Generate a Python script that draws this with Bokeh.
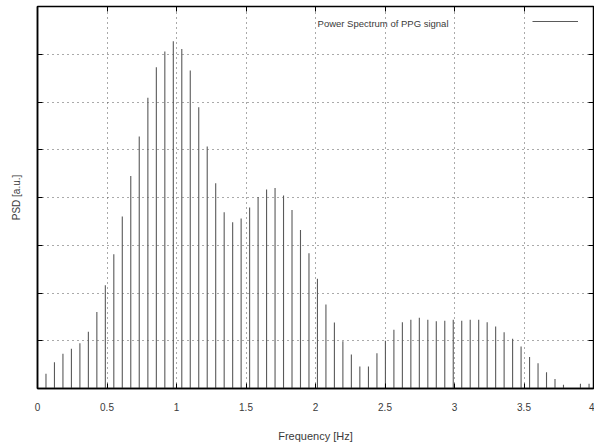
from bokeh.plotting import figure
from bokeh.models import Range1d, LinearAxis, Legend, LegendItem, Label, FixedTicker
from bokeh.embed import file_html
from bokeh.resources import INLINE

# Frequency bins [Hz]
freq = [0.061, 0.122, 0.183, 0.244, 0.305, 0.366, 0.427, 0.488, 0.549, 0.610,
        0.671, 0.732, 0.794, 0.855, 0.916, 0.977, 1.038, 1.099, 1.160, 1.221,
        1.282, 1.343, 1.404, 1.465, 1.526, 1.587, 1.648, 1.709, 1.770, 1.831,
        1.892, 1.953, 2.014, 2.075, 2.136, 2.197, 2.258, 2.319, 2.381, 2.442,
        2.503, 2.564, 2.625, 2.686, 2.747, 2.808, 2.869, 2.930, 2.991, 3.052,
        3.113, 3.174, 3.235, 3.296, 3.357, 3.418, 3.479, 3.540, 3.601, 3.662,
        3.723, 3.784, 3.845, 3.906, 3.968]
# PSD [a.u.]
psd = [0.31, 0.55, 0.73, 0.83, 0.95, 1.19, 1.60, 2.16, 2.81, 3.60,
       4.45, 5.28, 6.09, 6.73, 7.06, 7.27, 7.11, 6.66, 5.89, 5.07,
       4.30, 3.69, 3.48, 3.56, 3.79, 4.01, 4.17, 4.20, 4.04, 3.74,
       3.32, 2.83, 2.30, 1.76, 1.38, 0.99, 0.71, 0.46, 0.46, 0.74,
       1.00, 1.23, 1.39, 1.44, 1.48, 1.44, 1.41, 1.42, 1.44, 1.42,
       1.44, 1.44, 1.39, 1.30, 1.18, 1.04, 0.88, 0.66, 0.53, 0.34,
       0.20, 0.08, 0.00, 0.10, 0.10]
zeros = [0.0] * len(freq)

x_ticks = [0, 0.5, 1, 1.5, 2, 2.5, 3, 3.5, 4]
x_tick_labels = ["0", "0.5", "1", "1.5", "2", "2.5", "3", "3.5", "4"]
y_ticks = [0, 1, 2, 3, 4, 5, 6, 7, 8]

FONT = "Liberation Sans"
TXT = "#3a3a3a"

p = figure(width=594, height=446, output_backend="svg", toolbar_location=None,
           x_range=Range1d(0, 4), y_range=Range1d(0, 8),
           min_border_left=37, min_border_right=1, min_border_top=6,
           min_border_bottom=58)
p.background_fill_color = "white"
p.border_fill_color = "white"
p.outline_line_color = "black"
p.outline_line_width = 1.5

seg = p.segment(x0=freq, y0=zeros, x1=freq, y1=psd, line_color="#5a5a5a",
                line_width=1.1)

# bottom axis
xa = p.xaxis[0]
xa.ticker = FixedTicker(ticks=x_ticks)
xa.major_label_overrides = {t: l for t, l in zip(x_ticks, x_tick_labels)}
xa.major_tick_in = 5
xa.major_tick_out = 0
xa.minor_tick_in = 0
xa.minor_tick_out = 0
xa.axis_line_color = "black"
xa.axis_line_width = 1.5
xa.major_label_standoff = 14
xa.major_label_text_font = FONT
xa.major_label_text_font_size = "10px"
xa.major_label_text_color = TXT
xa.axis_label = "Frequency [Hz]"
xa.axis_label_text_font = FONT
xa.axis_label_text_font_size = "11px"
xa.axis_label_text_font_style = "normal"
xa.axis_label_text_color = TXT
xa.axis_label_standoff = 16

# left axis (ticks only, no numbers, as in the reference)
ya = p.yaxis[0]
ya.ticker = FixedTicker(ticks=y_ticks)
ya.major_label_overrides = {t: "" for t in y_ticks}
ya.major_label_standoff = 0
ya.major_tick_in = 5
ya.major_tick_out = 0
ya.minor_tick_in = 0
ya.minor_tick_out = 0
ya.axis_line_color = "black"
ya.axis_line_width = 1.5
ya.axis_label = "PSD [a.u.]"
ya.axis_label_text_font = FONT
ya.axis_label_text_font_size = "10px"
ya.axis_label_text_font_style = "normal"
ya.axis_label_text_color = TXT
ya.axis_label_standoff = 16

# mirrored ticks (top / right)
top = LinearAxis(ticker=FixedTicker(ticks=x_ticks),
                 major_label_overrides={t: "" for t in x_ticks},
                 major_label_standoff=0, major_tick_in=5, major_tick_out=0,
                 minor_tick_in=0, minor_tick_out=0, axis_line_color="black")
right = LinearAxis(ticker=FixedTicker(ticks=y_ticks),
                   major_label_overrides={t: "" for t in y_ticks},
                   major_label_standoff=0, major_tick_in=5, major_tick_out=0,
                   minor_tick_in=0, minor_tick_out=0, axis_line_color="black")
p.add_layout(top, "above")
p.add_layout(right, "right")

p.xgrid.ticker = FixedTicker(ticks=x_ticks)
p.ygrid.ticker = FixedTicker(ticks=y_ticks)
for g in (p.xgrid, p.ygrid):
    g.grid_line_color = "#555555"
    g.grid_line_dash = "1 4"
    g.grid_line_width = 1

# legend (text on the left, sample on the right as in gnuplot)
legend = Legend(items=[LegendItem(label="", renderers=[seg])],
                location=(495, 362), glyph_width=46, glyph_height=10,
                label_standoff=0, padding=0, spacing=0, margin=0,
                border_line_alpha=0, background_fill_alpha=0)
p.add_layout(legend)
p.add_layout(Label(x=411, y=365, x_units="screen", y_units="screen",
                   text="Power Spectrum of PPG signal", text_align="right",
                   text_baseline="middle", text_font=FONT,
                   text_font_size="9.5px", text_color=TXT))

open("out.html", "w").write(file_html(p, INLINE))
